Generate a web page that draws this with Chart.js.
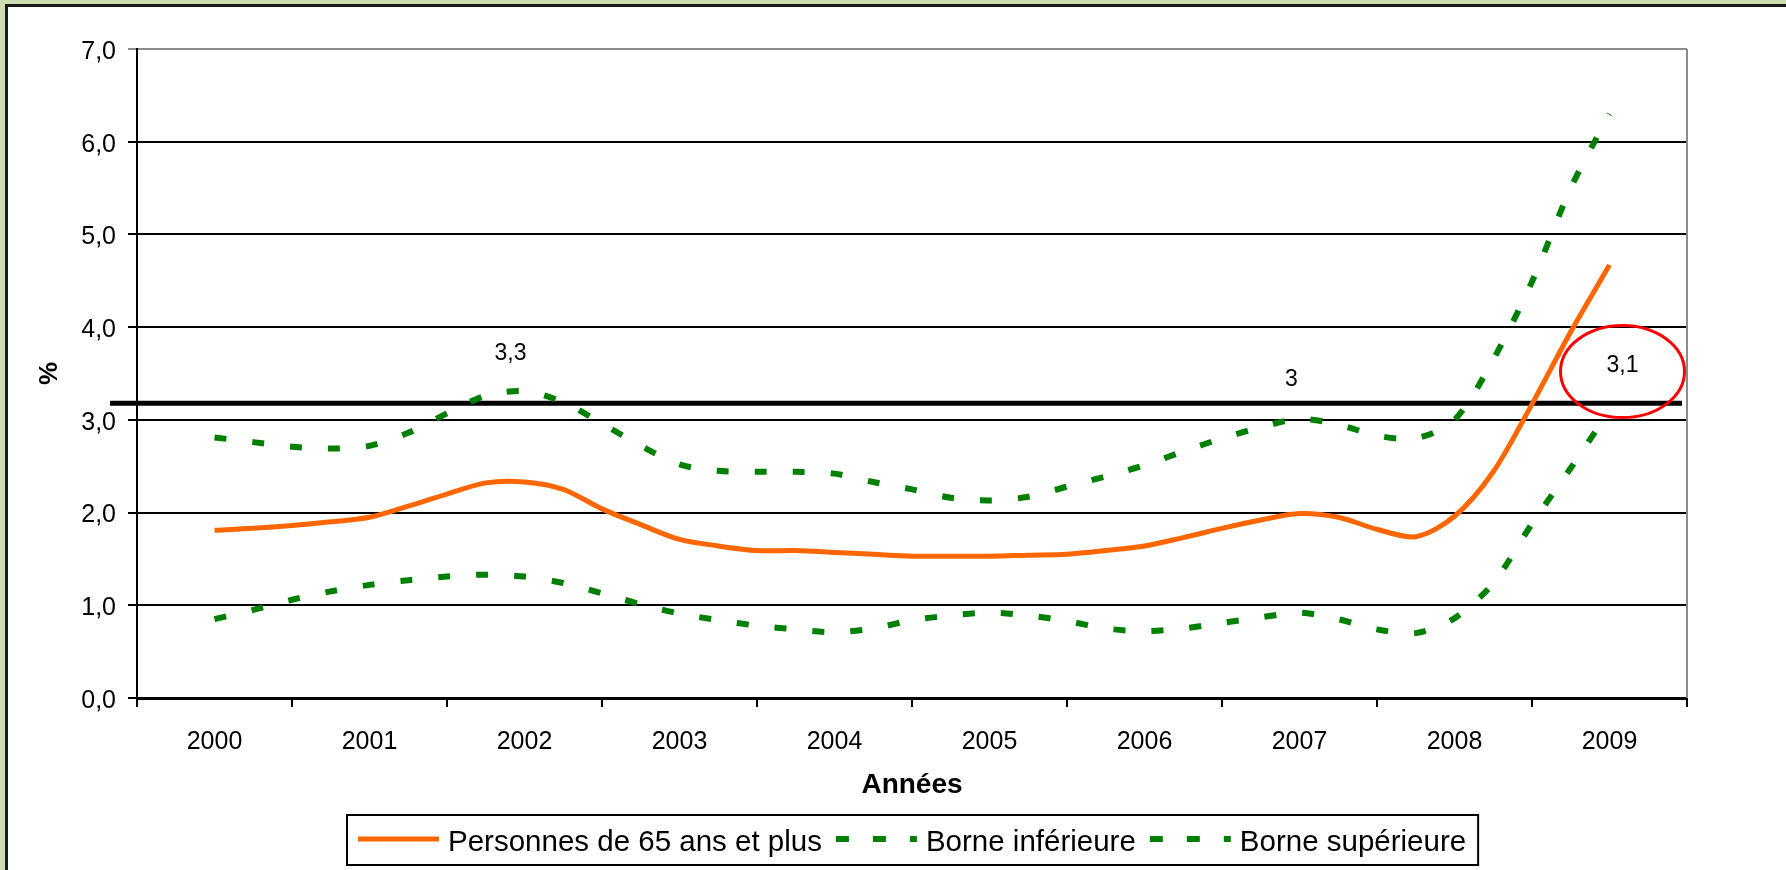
<!DOCTYPE html>
<html lang="fr">
<head>
<meta charset="utf-8">
<title>Personnes de 65 ans et plus</title>
<script src="https://cdn.jsdelivr.net/npm/chart.js@4.4.1/dist/chart.umd.min.js"></script>
<style>
  html, body { margin: 0; padding: 0; overflow: hidden; }
  body { width: 1786px; height: 870px; background: #cfdcb0; position: relative; }
  #cadre { position: absolute; left: 5px; top: 4px; width: 1800px; height: 900px; background: #fff; border: 3px solid #1a1a1a; }
  #graphique { position: absolute; left: 0; top: 0; }
</style>
</head>
<body>
<div id="cadre"></div>
<canvas id="graphique" width="1786" height="870"></canvas>
<script>
const annees = [2000, 2001, 2002, 2003, 2004, 2005, 2006, 2007, 2008, 2009];

// un point par trimestre, de 2000 à 2009
const periodes = Array.from({ length: 37 }, (_, i) => 2000 + i / 4);

const personnes65 = [
    1.81, 1.83, 1.86, 1.90, 1.95, 2.07, 2.20, 2.32, 2.33, 2.25,
    2.04, 1.87, 1.71, 1.64, 1.59, 1.59, 1.57, 1.55, 1.53, 1.53,
    1.53, 1.54, 1.55, 1.59, 1.64, 1.73, 1.83, 1.92, 1.99, 1.95,
    1.82, 1.74, 1.96, 2.44, 3.17, 3.95, 4.67
];

const borneInf = [
    0.85, 0.95, 1.06, 1.15, 1.22, 1.27, 1.31, 1.33, 1.31, 1.24,
    1.13, 1.01, 0.91, 0.84, 0.78, 0.74, 0.71, 0.75, 0.84, 0.89,
    0.92, 0.89, 0.83, 0.75, 0.72, 0.75, 0.81, 0.87, 0.92, 0.85,
    0.74, 0.70, 0.86, 1.24, 1.88, 2.48, 3.10
];

const borneSup = [
    2.81, 2.76, 2.71, 2.69, 2.72, 2.86, 3.07, 3.26, 3.31, 3.19,
    2.96, 2.72, 2.52, 2.45, 2.44, 2.44, 2.42, 2.33, 2.25, 2.16,
    2.13, 2.17, 2.28, 2.39, 2.51, 2.66, 2.80, 2.92, 3.01, 2.95,
    2.83, 2.80, 3.00, 3.65, 4.49, 5.50, 6.30
];

const seuil = 3.18;

// étiquettes de valeurs : série (index du dataset), point, texte
const etiquettes = [
    { serie: 2, index: 8, texte: '3,3' },
    { serie: 2, index: 28, texte: '3' },
    { serie: 1, index: 36, texte: '3,1' }
];

const POLICE = '"Liberation Sans", Arial, sans-serif';
Chart.defaults.font.family = POLICE;
Chart.defaults.color = '#000';

// graduations de l'axe X : traits entre les années, libellés au centre
const ticksX = [];
annees.forEach(a => ticksX.push(a - 0.5, a));
ticksX.push(annees[annees.length - 1] + 0.5);

const decalages = [[-14, -37], [-8, -39], [13, -45]];

const habillage = {
    id: 'habillage',
    beforeDatasetsDraw(chart) {
        const { ctx, chartArea, scales } = chart;
        ctx.save();
        // bord droit de la zone de tracé
        ctx.strokeStyle = '#8c8c8c';
        ctx.lineWidth = 2;
        ctx.beginPath();
        ctx.moveTo(chartArea.right, chartArea.top);
        ctx.lineTo(chartArea.right, chartArea.bottom);
        ctx.stroke();
        // ligne de seuil
        const y = scales.y.getPixelForValue(seuil);
        ctx.strokeStyle = '#000';
        ctx.lineWidth = 5;
        ctx.beginPath();
        ctx.moveTo(chartArea.left - 27, y);
        ctx.lineTo(chartArea.right - 5, y);
        ctx.stroke();
        ctx.restore();
    },
    afterDraw(chart) {
        const { ctx, scales } = chart;
        ctx.save();
        ctx.font = '23px ' + POLICE;
        ctx.fillStyle = '#000';
        ctx.textAlign = 'center';
        ctx.textBaseline = 'middle';
        let dernier = null;
        etiquettes.forEach((e, i) => {
            const val = chart.data.datasets[e.serie].data[e.index];
            const x = scales.x.getPixelForValue(periodes[e.index]) + decalages[i][0];
            const y = scales.y.getPixelForValue(val) + decalages[i][1];
            ctx.fillText(e.texte, x, y);
            dernier = { x, y };
        });
        // ellipse rouge autour de la dernière valeur
        ctx.strokeStyle = '#ff0000';
        ctx.lineWidth = 3;
        ctx.beginPath();
        ctx.ellipse(dernier.x, dernier.y + 6, 62, 46, 0, 0, Math.PI * 2);
        ctx.stroke();

        // légende encadrée
        ctx.font = '29.5px ' + POLICE;
        ctx.textAlign = 'left';
        ctx.textBaseline = 'alphabetic';
        const items = chart.data.datasets.map(ds => ({ ds, w: ctx.measureText(ds.label).width }));
        const largeur = items.reduce((s, it) => s + 81 + 9 + it.w, 0) + 14 * (items.length - 1) + 23;
        const bx = 347, by = 815;
        ctx.fillStyle = '#fff';
        ctx.fillRect(bx, by, largeur, 50);
        ctx.strokeStyle = '#000';
        ctx.lineWidth = 2;
        ctx.strokeRect(bx, by, largeur, 50);
        let x = bx + 11;
        items.forEach(it => {
            ctx.strokeStyle = it.ds.borderColor;
            ctx.lineWidth = it.ds.borderWidth;
            ctx.setLineDash(it.ds.borderDash.length ? [13, 24] : []);
            ctx.beginPath();
            ctx.moveTo(x, 839);
            ctx.lineTo(x + 81, 839);
            ctx.stroke();
            ctx.setLineDash([]);
            ctx.fillStyle = '#000';
            ctx.fillText(it.ds.label, x + 90, 851);
            x += 81 + 9 + it.w + 14;
        });
        ctx.restore();
    }
};

const ctx = document.getElementById('graphique').getContext('2d');
new Chart(ctx, {
    type: 'line',
    data: {
        labels: periodes,
        datasets: [
            {
                label: 'Personnes de 65 ans et plus',
                data: personnes65,
                borderColor: '#ff6600',
                borderWidth: 5,
                borderDash: []
            },
            {
                label: 'Borne inférieure',
                data: borneInf,
                borderColor: '#008000',
                borderWidth: 6,
                borderDash: [12, 26]
            },
            {
                label: 'Borne supérieure',
                data: borneSup,
                borderColor: '#008000',
                borderWidth: 6,
                borderDash: [12, 26]
            }
        ]
    },
    options: {
        responsive: false,
        animation: false,
        layout: { padding: { top: 49, right: 99, bottom: 0, left: 0 } },
        elements: {
            point: { radius: 0 },
            line: { tension: 0.3, borderCapStyle: 'butt', fill: false }
        },
        plugins: {
            legend: { display: false },
            tooltip: { enabled: false }
        },
        scales: {
            x: {
                type: 'linear',
                min: annees[0] - 0.5,
                max: annees[annees.length - 1] + 0.5,
                afterBuildTicks: (scale) => { scale.ticks = ticksX.map(v => ({ value: v })); },
                afterFit: (scale) => { scale.height = 172; },
                ticks: {
                    autoSkip: false,
                    maxRotation: 0,
                    padding: 20,
                    font: { size: 25 },
                    callback: (v) => Number.isInteger(v) ? String(v) : ''
                },
                grid: {
                    drawOnChartArea: false,
                    tickLength: 9,
                    lineWidth: 2,
                    color: (c) => (c.tick && !Number.isInteger(c.tick.value)) ? '#000' : 'rgba(0,0,0,0)'
                },
                border: { color: '#000', width: 3 },
                title: {
                    display: true,
                    text: 'Années',
                    font: { size: 28, weight: 'bold' },
                    padding: { top: 0, bottom: 68 }
                }
            },
            y: {
                min: 0,
                max: 7,
                afterFit: (scale) => { scale.width = 137; },
                ticks: {
                    stepSize: 1,
                    padding: 12,
                    labelOffset: 3,
                    font: { size: 25 },
                    callback: (v) => v.toFixed(1).replace('.', ',')
                },
                grid: {
                    tickLength: 9,
                    lineWidth: 2,
                    color: (c) => (c.tick && c.tick.value === 7) ? '#8c8c8c' : '#000'
                },
                border: { color: '#000', width: 2 },
                title: {
                    display: true,
                    text: '%',
                    font: { size: 26, weight: 'bold' },
                    padding: { top: 34, bottom: 0 }
                }
            }
        }
    },
    plugins: [habillage]
});
</script>
</body>
</html>
